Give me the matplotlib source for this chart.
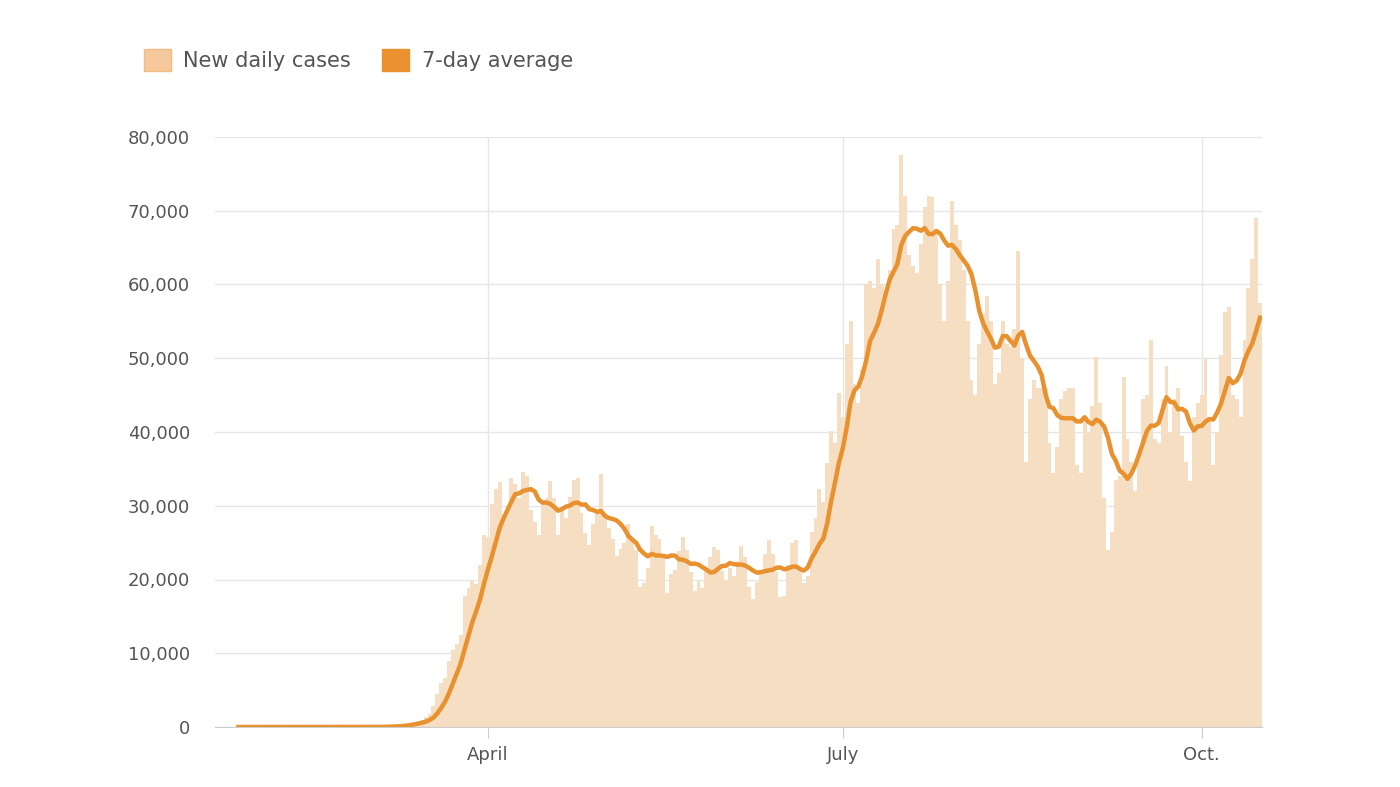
import numpy as np
import pandas as pd
import matplotlib.pyplot as plt
from matplotlib.patches import Patch

# daily new cases, starting Jan 28
jan_feb = [0] * 33
march = [8, 23, 20, 30, 60, 70, 110, 120, 200, 300, 450, 500, 700, 800, 1000, 1300,
         1800, 2800, 4500, 5900, 6700, 9000, 10500, 11200, 12500, 17800, 18800, 19800,
         19400, 22000, 26000]
april = [25800, 30200, 32300, 33200, 28500, 30000, 33800, 33000, 31000, 34600, 34000,
         29400, 27800, 26000, 30200, 31000, 33300, 31000, 26000, 29300, 28300, 31200,
         33500, 33700, 29000, 26300, 24700, 27500, 29500, 34300]
may = [29000, 27000, 25500, 23200, 24200, 25000, 27500, 25500, 24000, 19000, 19500,
       21500, 27300, 26000, 25500, 23500, 18200, 20800, 21300, 23800, 25700, 24000,
       21000, 18500, 19800, 18900, 21500, 23000, 24400, 24000, 21200]
june = [20000, 21500, 20500, 22500, 24500, 23000, 19000, 17400, 19600, 21000, 23400,
        25300, 23500, 21000, 17600, 17800, 22000, 25000, 25400, 21200, 19500, 20500,
        26500, 28300, 32300, 30500, 35800, 40200, 38500, 45300]
july = [42000, 52000, 55000, 46500, 44000, 48500, 60000, 60500, 59500, 63500, 60000,
        59000, 62000, 67500, 68000, 77500, 72000, 64000, 62500, 61500, 65500, 70500,
        72000, 71800, 67000, 60000, 55000, 60500, 71300, 68000, 66000]
august = [62000, 55000, 47000, 45000, 52000, 56000, 58500, 55000, 46500, 48000, 55000,
          52000, 51500, 54000, 64500, 50000, 36000, 44500, 47000, 46000, 46000, 46000,
          38500, 34500, 38000, 44500, 45500, 46000, 46000, 35500, 34500]
september = [42000, 40000, 43500, 50200, 44000, 31000, 24000, 26500, 33500, 34000,
             47500, 39000, 36000, 32000, 37000, 44500, 45000, 52500, 39000, 38500,
             44500, 49000, 40000, 44500, 46000, 39500, 36000, 33300, 42000, 44000]
october = [45000, 50000, 42000, 35500, 40000, 50500, 56300, 57000, 45000, 44500, 42000,
           52500, 59500, 63500, 69000, 57500]

daily = np.array(jan_feb + march + april + may + june + july + august + september + october, dtype=float)
dates = pd.date_range("2020-01-28", periods=len(daily), freq="D")
avg = pd.Series(daily).rolling(7, min_periods=1).mean().values

bar_color = "#f6dec2"
line_color = "#e8912e"
grid_color = "#e6e6e6"
text_color = "#555555"

fig = plt.figure(figsize=(14, 7.87), dpi=100)
ax = fig.add_axes([215 / 1400, 1 - 727 / 787, (1262 - 215) / 1400, (727 - 137) / 787])

ax.bar(dates, daily, width=1.0, color=bar_color, linewidth=0, zorder=1)
ax.plot(dates, avg, color=line_color, linewidth=3.2, zorder=3, solid_joinstyle="round")

ax.set_ylim(0, 80000)
ax.set_xlim(pd.Timestamp("2020-01-22"), dates[-1] + pd.Timedelta(hours=12))
ax.set_yticks(range(0, 80001, 10000))
ax.set_yticklabels([f"{v:,}" for v in range(0, 80001, 10000)])
xt = [pd.Timestamp("2020-04-01"), pd.Timestamp("2020-07-01"), pd.Timestamp("2020-10-01")]
ax.set_xticks(xt)
ax.set_xticklabels(["April", "July", "Oct."])

ax.grid(True, color=grid_color, linewidth=1, zorder=0)
ax.set_axisbelow(True)
for s in ["top", "right", "left"]:
    ax.spines[s].set_visible(False)
ax.spines["bottom"].set_color("#cccccc")
ax.tick_params(axis="y", length=0, labelsize=13, labelcolor=text_color, pad=18)
ax.tick_params(axis="x", length=8, color="#cccccc", labelsize=13, labelcolor=text_color, pad=6)

handles = [Patch(facecolor="#f5c99b", edgecolor="#f0bb85", label="New daily cases"),
           Patch(facecolor=line_color, edgecolor=line_color, label="7-day average")]
fig.legend(handles=handles, loc="upper left", bbox_to_anchor=(125 / 1400, 1 - 30 / 787),
           ncol=2, frameon=False, fontsize=15, labelcolor=text_color,
           handlelength=1.3, handleheight=1.3, columnspacing=1.5, handletextpad=0.6)

fig.savefig("out.png", dpi=100)
